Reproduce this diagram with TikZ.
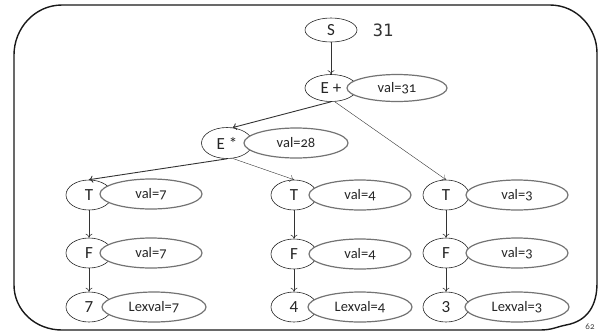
\documentclass[tikz,border=0pt]{standalone}
\usepackage{fontspec}
\setmainfont{Carlito}
\newfontfamily\oldnums{Carlito}[Numbers=OldStyle]
\newfontfamily\codefont{DejaVu Sans Mono}
\usetikzlibrary{shapes.geometric,arrows.meta}

\begin{document}
\begin{tikzpicture}[x=1pt,y=-1pt,
  sym/.style={ellipse, draw=black!85, line width=0.6pt, minimum width=46pt,
    minimum height=30pt, inner sep=0pt, text=black!85,
    font=\fontsize{17}{17}\selectfont},
  attr/.style={ellipse, draw=black!55, line width=1.2pt, fill=white,
    minimum width=102pt, minimum height=30pt, inner sep=0pt, text=black!85,
    font=\oldnums\fontsize{14.5}{14.5}\selectfont},
  edge/.style={draw=black!80, line width=0.6pt, -{To[length=4pt,width=7pt]}},
  thinedge/.style={edge, line width=0.4pt}
]
\useasboundingbox (0,0) rectangle (602,333);

% slide frame
\draw[black!90, line width=1.4pt, line join=round]
  (62,5) -- (550,5) .. controls (577,5) and (597,28) .. (597,53)
  -- (597,283) .. controls (597,305) and (588,321) .. (566,325)
  .. controls (556,327) and (552,330) .. (540,330)
  -- (62,330) .. controls (35,330) and (14,310) .. (14,285)
  -- (14,55) .. controls (14,28) and (35,5) .. (62,5) -- cycle;

% grammar symbols
\node[sym, minimum width=52pt, minimum height=24pt] (S) at (331,30) {S};
\node[sym, minimum width=52pt, minimum height=27pt] (Ep) at (331,88) {E +};
\node[sym, minimum width=51pt, minimum height=31pt] (Es) at (227,143) {E *};

\node[sym] (T1) at (89,195) {T};
\node[sym] (F1) at (89,253) {F};
\node[sym] (D1) at (89,307) {7};

\node[sym] (T2) at (294,195) {T};
\node[sym] (F2) at (294,254) {F};
\node[sym] (D2) at (294,307) {4};

\node[sym] (T3) at (446,195) {T};
\node[sym] (F3) at (446,253) {F};
\node[sym] (D3) at (446,307) {3};

% attribute values
\node[attr, minimum width=100pt, minimum height=27pt] (Vp) at (397,88) {val=31};
\node[attr, minimum width=104pt, minimum height=30pt] (Vs) at (296,143) {val=28};

\node[attr] (VT1) at (151,194) {val=7};
\node[attr] (VF1) at (151,253) {val=7};
\node[attr, minimum width=104pt] (VD1) at (154,307) {Lexval=7};

\node[attr] (VT2) at (360,195) {val=4};
\node[attr] (VF2) at (360,254) {val=4};
\node[attr, minimum width=104pt] (VD2) at (360,307) {Lexval=4};

\node[attr] (VT3) at (517,195) {val=3};
\node[attr] (VF3) at (517,253) {val=3};
\node[attr, minimum width=104pt] (VD3) at (517,307) {Lexval=3};

% result and page number
\node[text=black!80, font=\codefont\fontsize{17}{17}\selectfont] (res) at (383,30) {31};
\node[text=black!75, font=\oldnums\fontsize{9}{9}\selectfont] (pg) at (590,327) {62};

% parse tree edges
\draw[edge] (S) -- (Ep);
\draw[edge, line width=0.9pt] (Ep.south) -- (Es.70);
\draw[thinedge] (Ep.-75) -- (T3.north);
\draw[edge, line width=0.9pt] (Es.south) -- (T1.north);
\draw[thinedge] (Es.-70) -- (T2.north);

\draw[edge] (T1) -- (F1);
\draw[edge] (F1) -- (D1);
\draw[edge] (T2) -- (F2);
\draw[edge] (F2) -- (D2);
\draw[edge] (T3) -- (F3);
\draw[edge] (F3) -- (D3);
\end{tikzpicture}
\end{document}
